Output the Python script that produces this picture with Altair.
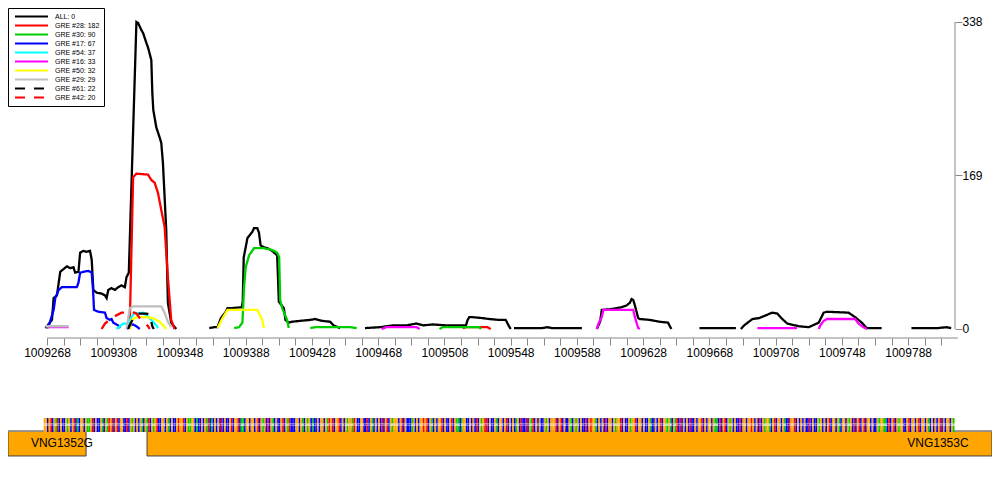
import altair as alt
import pandas as pd

BASE = 1009000
X_MIN, X_MAX = 1009244.45, 1009816.3
Y_MIN, Y_MAX = -9.91, 353.4

TICKS = list(range(1009268, 1009819, 10))
Y_TICKS = [0, 169, 338]

SERIES = ["ALL: 0", "GRE #28: 182", "GRE #30: 90", "GRE #17: 67", "GRE #54: 37",
          "GRE #16: 33", "GRE #50: 32", "GRE #29: 29", "GRE #61: 22", "GRE #42: 20"]
COLORS = ["#000000", "#FF0000", "#00CD00", "#0000FF", "#00FFFF",
          "#FF00FF", "#FFFF00", "#BEBEBE", "#000000", "#FF0000"]
DASHES = [[1, 0]] * 8 + [[10, 9], [10, 9]]

N = None  # segment break
ALL_POS = [267, 268, 271, 272, 274, 276, 278, 280, 282, 284, 285, 287, 288, 290, 292, 294, 295, 296, 298,
           301, 303, 304, 305, 307, 309, 311, 313, 315, 316, 317.4, 322, 323, 325, 326, 328, 329, 331,
           331.6, 332.2, 334, 336, 337, 338, 340, 341, 343, 346, N,
           366, 369, 371, 373, 376, 377, 380, 385.6, 386.2, 386.8, 388, 389, 392, 393, 395, 396, 397, 399,
           401, 404, 407, 408, 411, 412, 414, 416, 421, 427, 430, 434, 439, 441, 445, N,
           460, 469, 477, 485, 491, 495, 501, 509, 513, 521, 522, 523, 525, 531, 535, 541, 545, 547, 548, N,
           550, 559, 567, 570, 573, 591, N,
           600, 602, 603, 609, 615, 618, 620, 621, 622, 623, 625, 626, 632, 638, 643, 645, N,
           662, 684, N,
           687, 689, 694, 698, 702, 706, 709, 712, 715, 722, 728, 734, 737, 739, 752, 756, 760, 763, 772, N,
           790, 800, 806, 811, 814]
ALL_VAL = [1, 3, 10, 34, 37, 63, 66, 69, 67, 68, 62, 63, 84, 86, 85, 86, 76, 43, 40,
           39, 37, 34, 43, 45, 43, 46, 48, 46, 57, 62, 338, 337, 329, 326, 315, 310, 296,
           260, 241, 222, 211, 205, 183, 109, 29, 7, 0, N,
           1, 2, 2, 12, 19, 23, 23, 24, 30, 79, 90, 100, 107, 111, 111, 106, 92, 90,
           89, 86, 81, 30, 23, 10, 7, 8, 9, 10, 11, 9, 8, 4, 1, N,
           1, 2, 4, 4, 6, 4, 5, 4, 4, 4, 10, 13, 13, 12, 11, 10, 10, 3, 0, N,
           1, 1, 1, 2, 1, 1, N,
           0, 8, 21, 22, 24, 26, 29, 33, 32, 26, 12, 11, 10, 8, 7, 0, N,
           1, 1, N,
           0, 4, 11, 12, 15, 18, 17, 11, 6, 3, 2, 7, 18, 19, 18, 13, 7, 1, 1, N,
           1, 1, 1, 2, 1]

G28_POS = [317, 318, 320, 322, 329, 331, 333, 335, 337, 339, 341, 343, 345, N, 519, 521, 534, 536]
G28_VAL = [0, 7, 167, 171, 170, 164, 161, 150, 131, 113, 57, 10, 0, N, 1, 2, 2, 0]

G30_POS = [381, 384, 386, 387, 388, 390, 393, 399, 404, 407, 408.2, 408.8, 410, 413, 414, N,
           427, 430, 440, 451, 455, N, 505, 507, 529, 530]
G30_VAL = [1, 2, 7, 46, 68, 81, 89, 89, 87, 84, 79, 32, 23, 10, 1, N,
           1, 2, 2, 2, 1, N, 0, 2, 2, 0]

G17_POS = [268, 269, 272, 273, 275, 277, 280, 286, 287, 288, 290, 293, 295, 295.8, 296.4, 299, 303, 304,
           306, 307, 308, 311, 312, N, 316, 318, 320, 322, 324]
G17_VAL = [1, 3, 21, 34, 43, 46, 46, 46, 51, 62, 63, 64, 62, 43, 21, 19, 18, 12,
           10, 11, 7, 4, 1, N, 0, 4, 5, 3, 0]

G54_POS = [310, 312, 314, 317, 319, 321, 323, 326, 328, 330, 332, 334, 335]
G54_VAL = [0, 3, 6, 6, 13, 18, 17, 18, 15, 12, 8, 4, 1]

G16_POS = [268, 281, N, 470, 473, 491, 493, N, 600, 601, 603, 604, 614, 622, 623, 625, 626, N,
           697, 721, N, 734, 735, 737, 739, 756, 758, 761, 763]
G16_VAL = [2, 2, N, 0, 2, 2, 0, N, 0, 6, 13, 21, 21, 21, 13, 1, 0, N,
           1, 1, N, 0, 4, 9, 11, 11, 6, 2, 0]

G50_POS = [318, 319, 322, 328, 332, 336, 339, 340, N, 371, 374, 377, 395, 398, 399]
G50_VAL = [0, 10, 13, 13, 12, 8, 2, 0, N, 1, 12, 21, 21, 10, 1]

G29_POS = [267, 281, N, 316, 318, 320, 337, 339, 341, 343]
G29_VAL = [3, 3, N, 0, 23, 25, 25, 18, 8, 2]

G61_POS = [317, 319, 321, 323, 328, 330, 331, 331.6, 332.5]
G61_VAL = [0, 8, 14, 17, 17, 16, 8, 3, 0]

G42_POS = [301, 303, 305, 307, 310, 313, 316, 319, 322, 324, 327, 329, 330]
G42_VAL = [0, 6, 9, 13, 15, 18, 18, 19, 17, 12, 7, 3, 0]

SERIES_DATA = [(ALL_POS, ALL_VAL), (G28_POS, G28_VAL), (G30_POS, G30_VAL), (G17_POS, G17_VAL),
               (G54_POS, G54_VAL), (G16_POS, G16_VAL), (G50_POS, G50_VAL), (G29_POS, G29_VAL),
               (G61_POS, G61_VAL), (G42_POS, G42_VAL)]

# gene track (drawn below the coverage panel, in coverage-axis units)
GENE_NAMES = ["VNG1352G", "VNG1353C"]
GENE_START = [1009244.45, 1009328.4]
GENE_END = [1009291.6, 1009838.6]
GENE_LABEL_POS = [1009277, 1009806]
GENE_Y = [-139.8, -112.3]
SEQ_Y = [-113.4, -98.0]
SEQ_TEXT_Y = -105.7
GENE_LABEL_Y = -125.5
TRACK_X = [1009244.45, 1009838.6]

SEQ_START = 1009266
SEQUENCE = (
    "GGCGTCGATCGCCGAGCGTCACGGCGAAGTCGCCGACGATGTCGTCGGCCTCGAGCGCGA"
    "CGATCGAGTCCGGCGACGCCGTGGTCGAAGGCACCGCGATCACGCGCTCGCCGTCGGTCA"
    "ACGGCGGCGTCGAGCTCGACGCCGTCGATCCCGGCGACGAGCACCGCGGCGATGTCGGTC"
    "GCGAGGATGCCGGCCTCGACGCGCTCGTCGAGGGCGTCGCCCAGCGCGGTGTCGACGCGG"
    "TCGCCGTCGAACAGGCCGCGCTCGAGTTCGCCGACGGCGTCGCGCAGCTCCTCGATCGCG"
    "CCGAGCGGGTCGTCGCCGACGAGCGCCTCGTGGACGCGCTCGGCGAGGTCGCCGAGGTCG"
    "GCGCCGACCGCGTCGGAGACGATCTCGCGCTCCGCGGTCGCGGCGAACTCGTCGAGCGCC"
    "TCGGCGGTGCGCTCGAGGACGTCGGCGACCTGGTCGCGCGCCTCGCCGAGCGCGTCGGCG"
    "ACGGCGAGCTCGTCGTCGGCGCCGAGGAACTCGTCGAGGCCGTCGGCGTCGGCGACGCGC"
    "GTCGCGGCGACGTCGAGCTCGCCGGCGATCACGCGCGCGAGCTCGACGCCGTCGGCGAGC"
)[:550]
BASES = ["A", "C", "G", "T"]
BASE_COLORS = ["#00CC00", "#0000FF", "#FFA500", "#FF0000"]

# ---------- tables ----------
rows = []
for name, (pos, val) in zip(SERIES, SERIES_DATA):
    seg = 0
    for p, v in zip(pos, val):
        if p is None:
            seg += 1
            continue
        rows.append({"series": name, "seg": f"{name}|{seg}", "pos": BASE + p, "val": v})
cov = pd.DataFrame(rows)

seq_df = pd.DataFrame({"base": list(SEQUENCE)})
seq_df["pos"] = [SEQ_START + i for i in range(len(SEQUENCE))]
seq_df["pos2"] = seq_df["pos"] + 1
seq_df["mid"] = seq_df["pos"] + 0.5
seq_df["y0"] = SEQ_Y[0]
seq_df["y1"] = SEQ_Y[1]
seq_df["yt"] = SEQ_TEXT_Y

genes = pd.DataFrame({"name": GENE_NAMES, "start": GENE_START, "end": GENE_END,
                      "lab": GENE_LABEL_POS, "y0": GENE_Y[0], "y1": GENE_Y[1], "yl": GENE_LABEL_Y})

FONT = "Liberation Sans"
xscale = alt.Scale(domain=[X_MIN, X_MAX], nice=False, zero=False)
yscale = alt.Scale(domain=[Y_MIN, Y_MAX], nice=False, zero=False)

legend = alt.Legend(title=None, orient="none", legendX=0, legendY=0, symbolType="stroke",
                    symbolSize=1089, symbolStrokeWidth=2, clipHeight=9, rowPadding=0,
                    labelFontSize=7, labelFont=FONT, labelOffset=6, padding=4, symbolOffset=2,
                    strokeColor="black", fillColor="white", labelColor="black")

x_axis = alt.Axis(values=TICKS, labelExpr="(datum.value - 1009268) % 40 == 0 ? datum.value : ''",
                  tickSize=7, tickColor="#888888", domain=False, grid=False, labelFontSize=12,
                  labelFont=FONT, labelColor="black", labelPadding=2, title=None,
                  labelOverlap=False, labelFlush=False)
y_axis = alt.Axis(orient="right", values=Y_TICKS, tickSize=7, tickColor="#888888",
                  domain=False, grid=False, labelFontSize=12, labelFont=FONT, labelColor="black",
                  labelPadding=0, title=None)


def X(field):
    return alt.X(field, scale=xscale, axis=x_axis)


def Y(field):
    return alt.Y(field, scale=yscale, axis=y_axis)


layers = []
for name in SERIES:
    layers.append(
        alt.Chart(cov[cov.series == name]).mark_line(strokeWidth=2.3).encode(
            x=X("pos:Q"),
            y=Y("val:Q"),
            color=alt.Color("series:N", scale=alt.Scale(domain=SERIES, range=COLORS), legend=legend),
            strokeDash=alt.StrokeDash("series:N", scale=alt.Scale(domain=SERIES, range=DASHES), legend=legend),
            detail="seg:N",
        )
    )

xline = alt.Chart(pd.DataFrame({"a": [TICKS[0]], "b": [TICKS[-1]], "y": [Y_MIN]})).mark_rule(
    color="#888888").encode(x=X("a:Q"), x2="b:Q", y=Y("y:Q"))
yline = alt.Chart(pd.DataFrame({"a": [Y_TICKS[0]], "b": [Y_TICKS[-1]], "x": [X_MAX]})).mark_rule(
    color="#888888").encode(y=Y("a:Q"), y2="b:Q", x=X("x:Q"))

seq_rect = alt.Chart(seq_df).mark_rect(strokeWidth=0).encode(
    x=X("pos:Q"), x2="pos2:Q", y=Y("y0:Q"), y2="y1:Q",
    fill=alt.Fill("base:N", scale=alt.Scale(domain=BASES, range=BASE_COLORS), legend=None))
seq_text = alt.Chart(seq_df).mark_text(fontSize=3, color="white", font=FONT).encode(
    x=X("mid:Q"), y=Y("yt:Q"), text="base:N")
top_line = alt.Chart(pd.DataFrame({"a": [TRACK_X[0]], "b": [TRACK_X[1]], "y": [GENE_Y[1]]})).mark_rule(
    color="#999999", strokeWidth=1.5).encode(x=X("a:Q"), x2="b:Q", y=Y("y:Q"))
gene_rect = alt.Chart(genes).mark_rect(fill="#FFA500", stroke="#444444", strokeWidth=1).encode(
    x=X("start:Q"), x2="end:Q", y=Y("y0:Q"), y2="y1:Q")
gene_text = alt.Chart(genes).mark_text(fontSize=12, font=FONT, color="black").encode(
    x=X("lab:Q"), y=Y("yl:Q"), text="name:N")

chart = alt.layer(gene_rect, top_line, seq_rect, seq_text, gene_text, *layers, xline, yline).properties(
    width=947, height=330, autosize=alt.AutoSizeParams(type="none"),
    padding={"left": 0, "top": 0, "right": 37, "bottom": 146}, background="white"
).configure_view(stroke=None)

chart.save("out.html", embed_options={"renderer": "svg", "actions": False})
